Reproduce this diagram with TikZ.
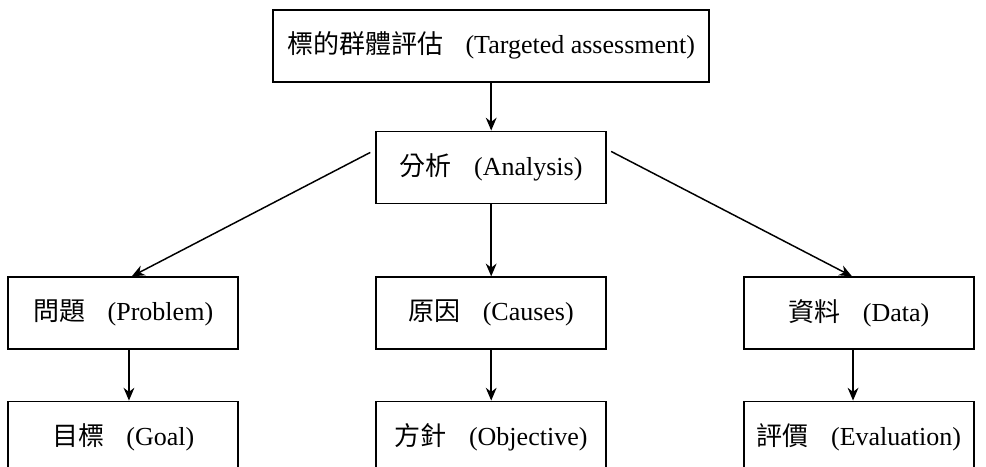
\documentclass[tikz,border=0pt]{standalone}
\usepackage{fontspec}
\setmainfont{Liberation Serif}
\newfontfamily\cjk{Noto Sans CJK TC}
\usetikzlibrary{positioning, arrows.meta}
\newcommand{\zh}[1]{{\cjk #1}\hspace{0.85em}}

\begin{document}
\begin{tikzpicture}[
	box/.style={draw, line width=1.3pt, minimum width=5.75cm, minimum height=1.8cm, inner sep=2pt, font=\fontsize{18.5}{22}\selectfont},
	link/.style={-{Stealth[length=0.32cm, width=0.27cm]}, line width=1.05pt}
]
	\useasboundingbox (0,0) rectangle (24.65,11.65);

	\node[box, minimum width=10.9cm] (target) at (12.28,10.51) {\zh{標的群體評估}(Targeted assessment)};
	\node[box, below=1.2cm of target] (analysis) {\zh{分析}(Analysis)};
	\node[box, below=1.8cm of analysis] (causes) {\zh{原因}(Causes)};
	\node[box, left=3.4cm of causes] (problem) {\zh{問題}(Problem)};
	\node[box, right=3.4cm of causes] (data) {\zh{資料}(Data)};
	\node[box, below=1.26cm of problem] (goal) {\zh{目標}(Goal)};
	\node[box, below=1.26cm of causes] (objective) {\zh{方針}(Objective)};
	\node[box, below=1.26cm of data] (evaluation) {\zh{評價}(Evaluation)};

	\draw [link] (target) -- (analysis);
	\draw [link] (analysis) -- (causes);
	\draw [link] ([xshift=-0.125cm, yshift=0.375cm]analysis.west) -- ([xshift=0.21cm]problem.north);
	\draw [link] ([xshift=0.1cm, yshift=0.4cm]analysis.east) -- ([xshift=-0.175cm]data.north);
	\draw [link] ([xshift=0.14cm]problem.south) -- ([xshift=0.14cm]goal.north);
	\draw [link] (causes) -- (objective);
	\draw [link] ([xshift=-0.15cm]data.south) -- ([xshift=-0.15cm]evaluation.north);
\end{tikzpicture}
\end{document}
